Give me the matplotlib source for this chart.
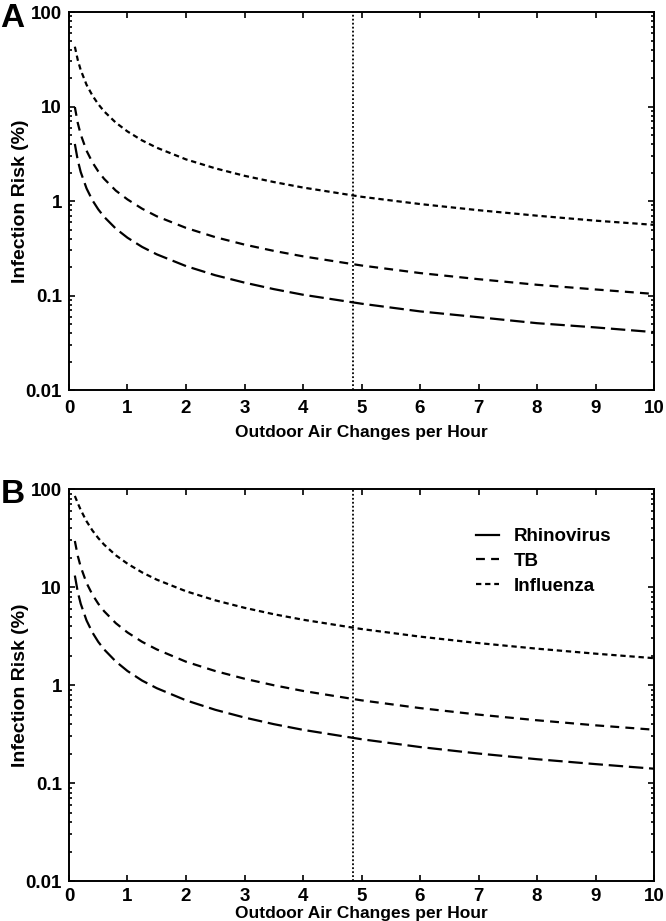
import numpy as np
import matplotlib
matplotlib.use("Agg")
import matplotlib.pyplot as plt
from matplotlib.lines import Line2D
from matplotlib.ticker import LogLocator, FixedLocator, NullFormatter, FuncFormatter

plt.rcParams['font.family'] = ['Liberation Sans', 'DejaVu Sans']
plt.rcParams['font.weight'] = 'bold'

# outdoor air changes per hour
ach = [0.1, 0.15, 0.2, 0.3, 0.4, 0.5, 0.6, 0.8, 1.0, 1.25, 1.5, 2.0, 2.5,
       3.0, 3.5, 4.0, 5.0, 6.0, 7.0, 8.0, 9.0, 10.0]

# panel A, infection risk (%)
rhino_a = [4.02, 2.70, 2.03, 1.36, 1.02, 0.817, 0.681, 0.511, 0.409, 0.327, 0.273,
           0.205, 0.164, 0.137, 0.117, 0.102, 0.082, 0.068, 0.059, 0.051, 0.046, 0.041]
tb_a = [9.88, 6.70, 5.07, 3.41, 2.57, 2.06, 1.72, 1.29, 1.04, 0.83, 0.69,
        0.52, 0.415, 0.346, 0.297, 0.26, 0.208, 0.173, 0.149, 0.13, 0.116, 0.104]
flu_a = [43.0, 31.1, 24.4, 17.0, 13.1, 10.6, 8.9, 6.76, 5.45, 4.38, 3.67,
         2.76, 2.22, 1.85, 1.59, 1.39, 1.11, 0.93, 0.80, 0.70, 0.62, 0.56]

# panel B, infection risk (%)
rhino_b = [13.1, 8.91, 6.76, 4.56, 3.44, 2.76, 2.31, 1.74, 1.39, 1.11, 0.929,
           0.698, 0.559, 0.466, 0.399, 0.349, 0.280, 0.233, 0.200, 0.175, 0.156, 0.140]
tb_b = [29.5, 20.8, 16.1, 11.0, 8.38, 6.76, 5.67, 4.28, 3.44, 2.76, 2.31,
        1.73, 1.39, 1.16, 0.995, 0.871, 0.698, 0.582, 0.499, 0.437, 0.388, 0.350]
flu_b = [85.0, 71.8, 61.3, 46.9, 37.8, 31.6, 27.1, 21.1, 17.3, 14.1, 11.9,
         9.06, 7.32, 6.14, 5.28, 4.64, 3.73, 3.12, 2.68, 2.35, 2.09, 1.88]

ref_ach = 4.85
names = ['Rhinovirus', 'TB', 'Influenza']
dash_styles = [(6.5, 2.6), (4.0, 2.8), (2.4, 1.7)]

fig = plt.figure(figsize=(6.66, 9.21), dpi=100)
ax_a = fig.add_axes([0.1036, 0.5765, 0.8784, 0.4104])
ax_b = fig.add_axes([0.1036, 0.0434, 0.8784, 0.4256])


def fmt(v, pos):
    if v >= 1:
        return '%d' % v
    return ('%g' % v)


def setup(ax, series, letter, xlab_y, let_y, xpad):
    for s, d, n in zip(series, dash_styles, names):
        ax.plot(ach, s, color='black', lw=1.6, linestyle=(0, d), label=n)
    ax.axvline(ref_ach, color='black', lw=1.3, linestyle=(0, (1, 1.2)))
    ax.set_yscale('log')
    ax.set_xlim(0, 10)
    ax.set_ylim(0.01, 100)
    ax.xaxis.set_major_locator(FixedLocator(range(11)))
    ax.yaxis.set_major_locator(FixedLocator([0.01, 0.1, 1, 10, 100]))
    ax.yaxis.set_minor_locator(LogLocator(base=10, subs=np.arange(2, 10)))
    ax.yaxis.set_minor_formatter(NullFormatter())
    ax.yaxis.set_major_formatter(FuncFormatter(fmt))
    ax.tick_params(which='both', direction='in', top=True, right=True,
                   labelsize=13.5, width=1.2)
    ax.tick_params(which='major', length=4.5)
    ax.tick_params(which='minor', length=2.5)
    ax.tick_params(axis='x', pad=xpad)
    ax.tick_params(axis='y', pad=5)
    for sp in ax.spines.values():
        sp.set_linewidth(1.4)
    ax.set_xlabel('Outdoor Air Changes per Hour', fontsize=12.5, fontweight='bold')
    ax.set_ylabel('Infection Risk (%)', fontsize=14, fontweight='bold')
    ax.xaxis.set_label_coords(0.5, xlab_y)
    ax.yaxis.set_label_coords(-0.068, 0.5)
    ax.text(-0.117, let_y, letter, transform=ax.transAxes, fontsize=24,
            fontweight='bold', ha='left', va='center')


setup(ax_a, [rhino_a, tb_a, flu_a], 'A', -0.093, 0.984, 7)
setup(ax_b, [rhino_b, tb_b, flu_b], 'B', -0.064, 0.985, 5)

# legend handles: rhinovirus sample looks like one solid stroke
handles = [Line2D([], [], color='black', lw=1.6),
           Line2D([], [], color='black', lw=1.6, linestyle=(0, (4.0, 2.8))),
           Line2D([], [], color='black', lw=1.6, linestyle=(0, (2.4, 1.7)))]
leg = ax_b.legend(handles, names, loc='upper left', bbox_to_anchor=(0.667, 0.943),
                  frameon=False, fontsize=13.5, handlelength=1.2, handletextpad=0.8,
                  labelspacing=0.4)

fig.savefig('out.png', dpi=100)
